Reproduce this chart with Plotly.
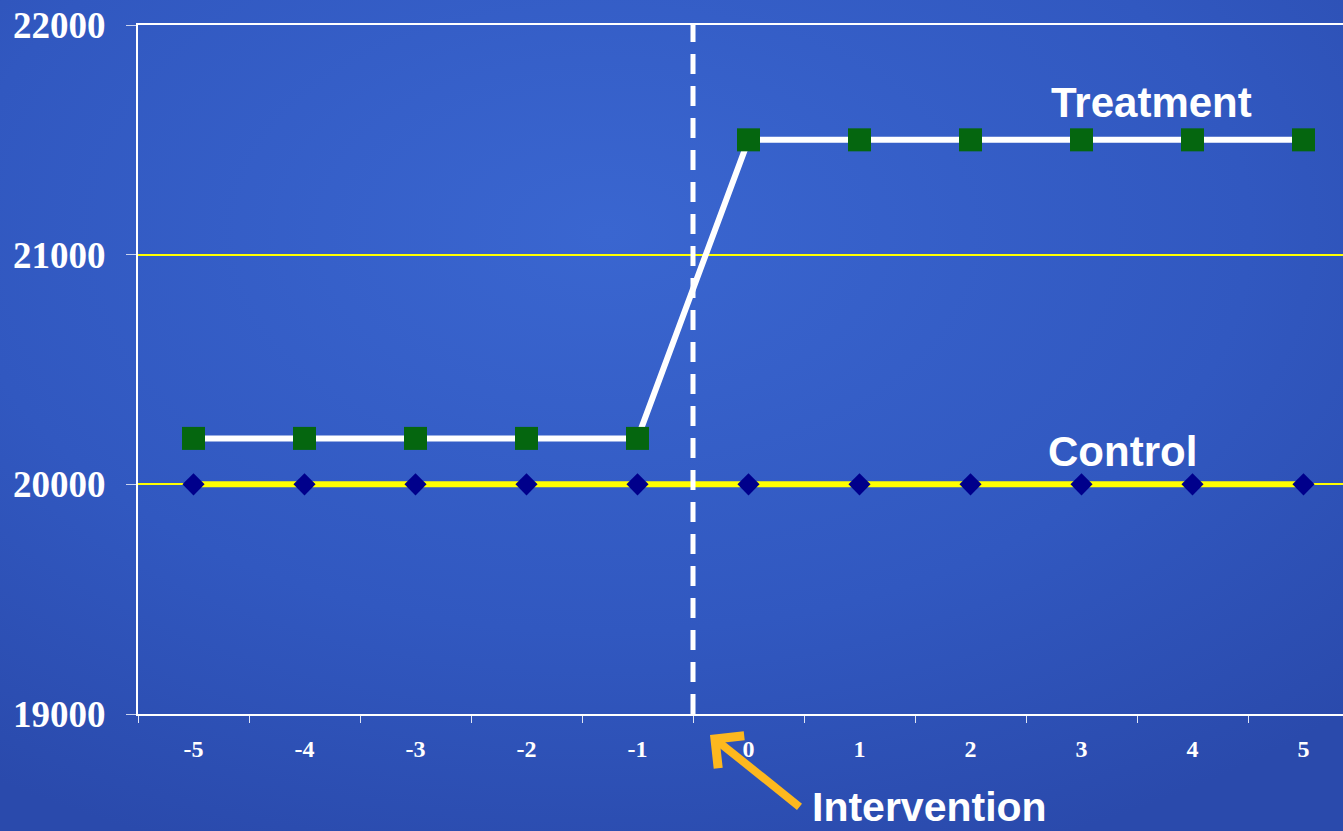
import plotly.graph_objects as go

# Time periods relative to the intervention
periods = [-5, -4, -3, -2, -1, 0, 1, 2, 3, 4, 5]
treatment = [20200, 20200, 20200, 20200, 20200, 21500, 21500, 21500, 21500, 21500, 21500]
control = [20000, 20000, 20000, 20000, 20000, 20000, 20000, 20000, 20000, 20000, 20000]
y_ticks = [19000, 20000, 21000, 22000]
y_tick_labels = ["19000", "20000", "21000", "22000"]
intervention_at = -0.5

W, H = 1343, 831
ML, MT, MB, MR = 138, 25, 117, 0
PW, PH = W - ML - MR, H - MT - MB

# soft blue backdrop (radial gradient)
bg_svg = (
    "data:image/svg+xml;utf8,"
    "<svg xmlns='http://www.w3.org/2000/svg' width='1343' height='831'>"
    "<defs><radialGradient id='g' cx='0.45' cy='0.28' r='0.8'>"
    "<stop offset='0' stop-color='%233A66D0'/>"
    "<stop offset='0.6' stop-color='%233158C0'/>"
    "<stop offset='1' stop-color='%232A4AAC'/>"
    "</radialGradient></defs>"
    "<rect width='1343' height='831' fill='url(%23g)'/></svg>"
)

fig = go.Figure()

fig.add_trace(go.Scatter(
    x=periods, y=control, mode="lines+markers",
    line=dict(color="#FFFF00", width=6),
    marker=dict(symbol="diamond", size=17, color="#00008B"),
    showlegend=False, cliponaxis=False,
))
fig.add_trace(go.Scatter(
    x=periods, y=treatment, mode="lines+markers",
    line=dict(color="#FFFFFF", width=6),
    marker=dict(symbol="square", size=23, color="#05660F"),
    showlegend=False, cliponaxis=False,
))

# intervention marker line
fig.add_shape(type="line", xref="x", yref="y",
              x0=intervention_at, x1=intervention_at, y0=19000, y1=22000,
              line=dict(color="white", width=5, dash="20px,12px"))

fig.add_annotation(x=3.63, y=21661, xref="x", yref="y", text="<b>Treatment</b>",
                   showarrow=False, font=dict(family="Liberation Sans", size=42, color="white"))
fig.add_annotation(x=3.37, y=20143, xref="x", yref="y", text="<b>Control</b>",
                   showarrow=False, font=dict(family="Liberation Sans", size=42, color="white"))
fig.add_annotation(x=(929 - ML) / PW, y=-(807 - 714) / PH, xref="paper", yref="paper",
                   xanchor="center", yanchor="middle",
                   text="<b>Intervention</b>", showarrow=False,
                   font=dict(family="Liberation Sans", size=41, color="white"))
# arrow pointing at the intervention line
fig.add_annotation(x=(710 - ML) / PW, y=-(735 - 714) / PH, xref="paper", yref="paper",
                   text="", showarrow=True, ax=91, ay=73,
                   arrowhead=4, arrowsize=1.0, arrowwidth=8, arrowcolor="#FDB81E")

x_range_right = -5.5 + PW / 111.0

fig.update_layout(
    width=W, height=H,
    margin=dict(l=ML, r=MR, t=MT, b=MB, pad=0),
    paper_bgcolor="#2E51B6",
    plot_bgcolor="rgba(0,0,0,0)",
    images=[dict(source=bg_svg, xref="paper", yref="paper",
                 x=-ML / PW, y=1 + MT / PH, sizex=W / PW, sizey=H / PH,
                 xanchor="left", yanchor="top", sizing="stretch", layer="below")],
    xaxis=dict(
        range=[-5.5, x_range_right], tickmode="array", tickvals=periods,
        ticktext=[str(p) for p in periods], ticks="", showgrid=False, zeroline=False,
        showline=True, linecolor="white", linewidth=2, mirror=True,
        tickfont=dict(family="Liberation Serif", size=24, color="white", weight="bold"),
        ticklabelstandoff=12,
        minor=dict(tick0=-5.5, dtick=1, ticks="outside", ticklen=7,
                   tickcolor="#E0E6F5", tickwidth=1, showgrid=False),
    ),
    yaxis=dict(
        range=[19000, 22000], tickmode="array", tickvals=y_ticks, ticktext=y_tick_labels,
        ticks="outside", ticklen=10, tickcolor="#C8D2EE", tickwidth=1,
        showgrid=True, gridcolor="#FFFF00", gridwidth=2, zeroline=False,
        showline=True, linecolor="white", linewidth=2,
        tickfont=dict(family="Liberation Serif", size=37, color="white", weight="bold"),
        ticklabelstandoff=13,
    ),
)

fig.write_html("out.html")
